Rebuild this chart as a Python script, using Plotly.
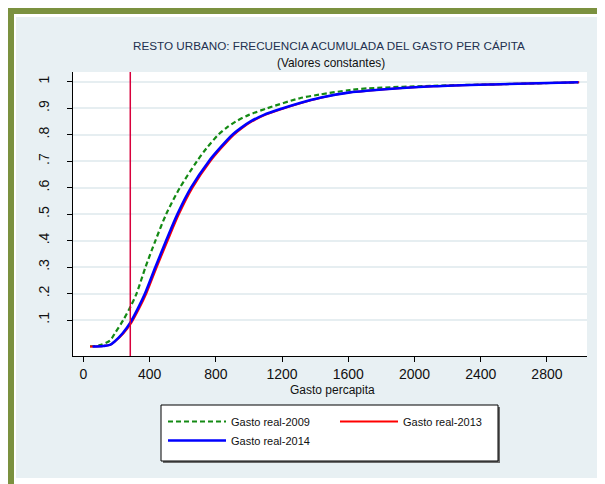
import plotly.graph_objects as go

# ---------------- data ----------------
x_2009 = [40, 100, 160, 190, 241, 283, 321, 375, 435, 500, 583, 686, 745, 815, 862, 920, 1000, 1110, 1308, 1429, 1610, 1711, 2113, 2516, 2990]
y_2009 = [0.0, 0.005, 0.022, 0.05, 0.1, 0.149, 0.2, 0.3, 0.4, 0.5, 0.6, 0.7, 0.75, 0.8, 0.825, 0.85, 0.875, 0.9, 0.938, 0.952, 0.969, 0.975, 0.985, 0.991, 0.998]

x_2013 = [40, 120, 162, 192, 242, 290, 338, 380, 443, 509, 577, 659, 767, 834, 909, 958, 1018, 1098, 1212, 1315, 1435, 1615, 1715, 2115, 2520, 2995]
y_2013 = [0.0, 0.002, 0.006, 0.02, 0.05, 0.09, 0.145, 0.2, 0.3, 0.4, 0.5, 0.6, 0.7, 0.75, 0.8, 0.825, 0.85, 0.875, 0.9, 0.92, 0.94, 0.96, 0.966, 0.983, 0.991, 0.998]

x_2014 = [55, 120, 160, 190, 237, 283, 330, 372, 435, 500, 568, 650, 758, 825, 900, 950, 1010, 1090, 1205, 1308, 1429, 1610, 1711, 2113, 2516, 2990]
y_2014 = [0.0, 0.002, 0.006, 0.02, 0.05, 0.09, 0.145, 0.2, 0.3, 0.4, 0.5, 0.6, 0.7, 0.75, 0.8, 0.825, 0.85, 0.875, 0.9, 0.92, 0.94, 0.96, 0.966, 0.983, 0.991, 0.998]

poverty_line = 283

series_names = ["Gasto real-2009", "Gasto real-2013", "Gasto real-2014"]
x_ticks = [0, 400, 800, 1200, 1600, 2000, 2400, 2800]
y_ticks = [0.1, 0.2, 0.3, 0.4, 0.5, 0.6, 0.7, 0.8, 0.9, 1.0]
y_tick_labels = [".1", ".2", ".3", ".4", ".5", ".6", ".7", ".8", ".9", "1"]

title_text = "RESTO URBANO: FRECUENCIA ACUMULADA DEL GASTO PER CÁPITA"
subtitle_text = "(Valores constantes)"
x_title = "Gasto percapita"

# ---------------- layout helpers (screen pixel -> paper coords) ----------------
OFF = 8                      # page body margin
W, H = 605 - OFF, 484 - OFF  # figure size
ML, MR, MT, MB = 65, 18, 64, 128
PW = W - ML - MR
PH = H - MT - MB


def px(sx):
    return (sx - OFF - ML) / PW


def py(sy):
    return (H - MB - (sy - OFF)) / PH


FONT = "Liberation Sans, Arial, sans-serif"

fig = go.Figure()
fig.add_trace(go.Scatter(x=x_2009, y=y_2009, mode="lines", name=series_names[0],
                         legend="legend", legendgroup="a", line_shape="spline",
                         line=dict(color="#148a14", width=2.2, dash="5px,3px", smoothing=0.8)))
fig.add_trace(go.Scatter(x=x_2013, y=y_2013, mode="lines", name=series_names[1],
                         legend="legend2", legendgroup="b", line_shape="spline",
                         line=dict(color="#ff0000", width=2, smoothing=0.8)))
fig.add_trace(go.Scatter(x=x_2014, y=y_2014, mode="lines", name=series_names[2],
                         legend="legend", legendgroup="c", line_shape="spline",
                         line=dict(color="#0000ff", width=2.6, smoothing=0.8)))

shapes = [
    # light background panel
    dict(type="rect", xref="paper", yref="paper", x0=px(16), x1=px(601), y0=py(478), y1=py(17),
         fillcolor="#e8f0f3", line=dict(width=0), layer="below"),
    # olive frame (top and left)
    dict(type="rect", xref="paper", yref="paper", x0=px(8), x1=px(606), y0=py(14), y1=py(8),
         fillcolor="#7b913f", line=dict(width=0), layer="below"),
    dict(type="rect", xref="paper", yref="paper", x0=px(8), x1=px(14), y0=py(485), y1=py(8),
         fillcolor="#7b913f", line=dict(width=0), layer="below"),
    # white plot region
    dict(type="rect", xref="paper", yref="paper", x0=0, x1=1, y0=0, y1=1,
         fillcolor="white", line=dict(width=0), layer="below"),
    # legend box shadow + box
    dict(type="rect", xref="paper", yref="paper", x0=px(163), x1=px(500), y0=py(463), y1=py(407),
         fillcolor="#6a6a6a", line=dict(width=0), layer="below"),
    dict(type="rect", xref="paper", yref="paper", x0=px(161), x1=px(498), y0=py(461), y1=py(405),
         fillcolor="white", line=dict(color="black", width=1), layer="below"),
    # vertical reference line
    dict(type="line", xref="x", yref="paper", x0=poverty_line, x1=poverty_line, y0=0, y1=1,
         line=dict(color="#d8003c", width=1.5), layer="above"),
]

annotations = [
    dict(text=title_text, xref="paper", yref="paper", x=px(329), y=py(45), showarrow=False,
         xanchor="center", yanchor="middle", font=dict(family=FONT, size=11.7, color="#22304f")),
    dict(text=subtitle_text, xref="paper", yref="paper", x=px(331), y=py(63), showarrow=False,
         xanchor="center", yanchor="middle", font=dict(family=FONT, size=11.9, color="#111111")),
    dict(text=x_title, xref="paper", yref="paper", x=px(332), y=py(390), showarrow=False,
         xanchor="center", yanchor="middle", font=dict(family=FONT, size=12, color="#111111")),
]

legend_common = dict(
    orientation="v", yanchor="top", xanchor="left",
    bgcolor="rgba(0,0,0,0)", borderwidth=0,
    font=dict(family=FONT, size=11, color="#111111"),
    itemwidth=58, tracegroupgap=5, traceorder="normal",
)

fig.update_layout(
    width=W, height=H,
    margin=dict(l=ML, r=MR, t=MT, b=MB, pad=0),
    paper_bgcolor="white",
    plot_bgcolor="white",
    shapes=shapes,
    annotations=annotations,
    showlegend=True,
    legend=dict(x=px(163), y=py(407), **legend_common),
    legend2=dict(x=px(335), y=py(407), **legend_common),
    xaxis=dict(
        range=[-63, 3042], tickvals=x_ticks, ticktext=[str(v) for v in x_ticks],
        showgrid=False, zeroline=False, showline=True, linecolor="black", linewidth=1,
        ticks="outside", ticklen=5, tickcolor="black", tickwidth=1,
        tickfont=dict(family=FONT, size=14, color="#111111"),
    ),
    yaxis=dict(
        range=[-0.036, 1.037], tickvals=y_ticks, ticktext=y_tick_labels, tickangle=-90,
        showgrid=True, gridcolor="#e6eef1", gridwidth=1.5, zeroline=False,
        showline=True, linecolor="black", linewidth=1,
        ticks="outside", ticklen=5, tickcolor="black", tickwidth=1, ticklabelstandoff=12,
        tickfont=dict(family=FONT, size=14, color="#111111"),
    ),
)

fig.write_html("out.html")
